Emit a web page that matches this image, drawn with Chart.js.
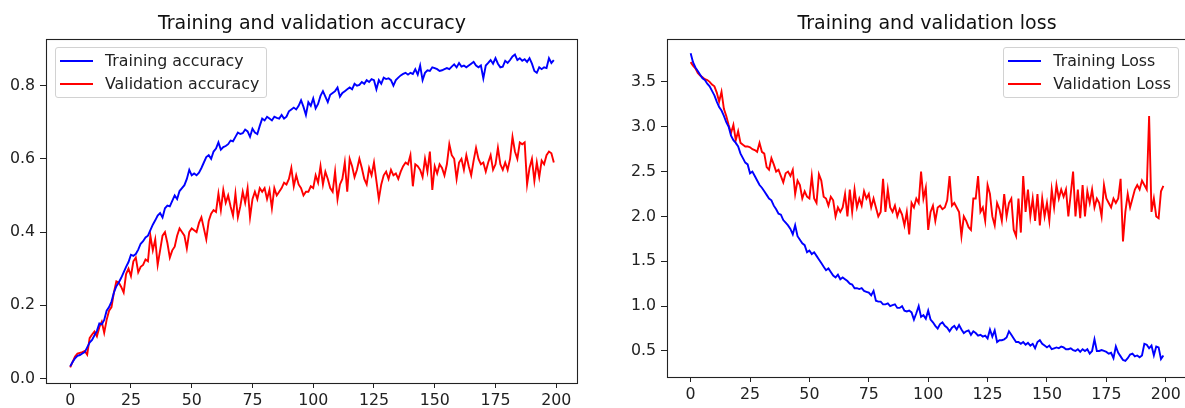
<!DOCTYPE html>
<html>
<head>
<meta charset="utf-8">
<script src="https://cdn.jsdelivr.net/npm/chart.js@4"></script>
<style>
  html, body { margin: 0; padding: 0; background: #fff; }
  body { width: 1185px; height: 408px; position: relative; overflow: hidden; font-family: 'DejaVu Sans', sans-serif; }
  .panel { position: absolute; top: 0; height: 408px; }
  .legend {
    position: absolute;
    background: rgba(255,255,255,0.8);
    border: 1px solid #d2d2d2;
    border-radius: 3px;
    padding: 5px 7px 5px 4px;
    font-size: 15.8px;
    color: #222;
  }
  .legend-item { display: flex; align-items: center; height: 16px; line-height: 16px; white-space: nowrap; }
  .legend-item + .legend-item { margin-top: 7px; }
  .legend-line { display: inline-block; width: 33px; height: 2px; margin-right: 12px; }
</style>
</head>
<body>
<div class="panel" id="accPanel" style="left:0;width:600px;">
  <canvas id="accChart" width="600" height="408"></canvas>
  <div class="legend" id="accLegend"></div>
</div>
<div class="panel" id="lossPanel" style="left:600px;width:600px;">
  <canvas id="lossChart" width="600" height="408"></canvas>
  <div class="legend" id="lossLegend"></div>
</div>
<script>
// --- Data ---
const trainAcc = [
  0.033, 0.045, 0.055, 0.062, 0.064, 0.068, 0.072, 0.085, 0.098, 0.105,
  0.118, 0.13, 0.15, 0.148, 0.16, 0.185, 0.195, 0.21, 0.235, 0.252,
  0.262, 0.275, 0.29, 0.305, 0.318, 0.338, 0.335, 0.34, 0.352, 0.368,
  0.375, 0.385, 0.39, 0.405, 0.42, 0.432, 0.445, 0.452, 0.44, 0.465,
  0.472, 0.47, 0.485, 0.50, 0.49, 0.512, 0.52, 0.528, 0.545, 0.57,
  0.555, 0.56, 0.555, 0.562, 0.575, 0.59, 0.605, 0.61, 0.60, 0.62,
  0.628, 0.645, 0.625, 0.632, 0.635, 0.64, 0.65, 0.648, 0.66, 0.672,
  0.668, 0.67, 0.68, 0.675, 0.66, 0.682, 0.672, 0.668, 0.69, 0.71,
  0.705, 0.715, 0.71, 0.705, 0.715, 0.712, 0.71, 0.72, 0.71, 0.715,
  0.73, 0.735, 0.74, 0.735, 0.745, 0.76, 0.742, 0.72, 0.755, 0.745,
  0.765, 0.738, 0.75, 0.772, 0.785, 0.77, 0.755, 0.775, 0.78, 0.785,
  0.795, 0.77, 0.78, 0.785, 0.79, 0.795, 0.79, 0.805, 0.80, 0.802,
  0.81, 0.805, 0.815, 0.81, 0.818, 0.815, 0.79, 0.815, 0.805, 0.822,
  0.818, 0.82, 0.815, 0.80, 0.815, 0.822, 0.828, 0.832, 0.835, 0.83,
  0.835, 0.832, 0.845, 0.83, 0.855, 0.815, 0.835, 0.842, 0.84, 0.85,
  0.848, 0.845, 0.84, 0.842, 0.845, 0.848, 0.845, 0.852, 0.858, 0.85,
  0.862, 0.852, 0.855, 0.85, 0.855, 0.86, 0.865, 0.855, 0.85, 0.855,
  0.82, 0.855, 0.862, 0.87, 0.86, 0.875, 0.86, 0.85, 0.852, 0.868,
  0.862, 0.87, 0.88, 0.885, 0.87, 0.875, 0.868, 0.872, 0.865, 0.875,
  0.86, 0.84, 0.835, 0.85, 0.845, 0.85, 0.848, 0.875, 0.862, 0.87
];

const valAcc = [
  0.03, 0.045, 0.06, 0.068, 0.07, 0.072, 0.075, 0.065, 0.11, 0.12,
  0.128, 0.115, 0.14, 0.155, 0.125, 0.16, 0.185, 0.195, 0.235, 0.265,
  0.262, 0.25, 0.235, 0.285, 0.30, 0.28, 0.32, 0.33, 0.29, 0.305,
  0.31, 0.325, 0.32, 0.39, 0.35, 0.38, 0.31, 0.35, 0.39, 0.40,
  0.37, 0.33, 0.35, 0.36, 0.39, 0.41, 0.40, 0.39, 0.355, 0.40,
  0.41, 0.405, 0.40, 0.425, 0.44, 0.41, 0.38, 0.43, 0.45, 0.46,
  0.455, 0.505, 0.46, 0.515, 0.48, 0.50, 0.47, 0.445, 0.505, 0.44,
  0.47, 0.51, 0.48, 0.52, 0.44, 0.49, 0.51, 0.49, 0.52, 0.51,
  0.52, 0.49, 0.515, 0.465, 0.52, 0.50, 0.51, 0.52, 0.535, 0.53,
  0.545, 0.575, 0.525, 0.555, 0.53, 0.52, 0.50, 0.51, 0.51, 0.525,
  0.52, 0.555, 0.535, 0.58, 0.53, 0.565, 0.545, 0.52, 0.51, 0.565,
  0.49, 0.53, 0.545, 0.59, 0.51, 0.60, 0.58, 0.55, 0.57, 0.60,
  0.575, 0.545, 0.53, 0.575, 0.555, 0.59, 0.54, 0.49, 0.53, 0.555,
  0.565, 0.545, 0.57, 0.555, 0.56, 0.545, 0.565, 0.58, 0.59, 0.585,
  0.61, 0.525, 0.585, 0.58, 0.57, 0.55, 0.60, 0.565, 0.62, 0.515,
  0.58, 0.56, 0.585, 0.575, 0.555, 0.585, 0.64, 0.61, 0.60, 0.545,
  0.59, 0.60, 0.57, 0.61, 0.58, 0.555, 0.595, 0.63, 0.60, 0.585,
  0.59, 0.565, 0.59, 0.61, 0.57, 0.585, 0.63, 0.585, 0.57, 0.59,
  0.57, 0.60, 0.66, 0.62, 0.60, 0.645, 0.64, 0.645, 0.53, 0.575,
  0.60, 0.54, 0.59, 0.55, 0.595, 0.585, 0.61, 0.62, 0.615, 0.59
];

const trainLoss = [
  3.82, 3.72, 3.66, 3.62, 3.58, 3.54, 3.52, 3.48, 3.45, 3.40,
  3.35, 3.28, 3.22, 3.18, 3.12, 3.05, 3.00, 2.90, 2.85, 2.82,
  2.78, 2.70, 2.65, 2.60, 2.58, 2.48, 2.50, 2.45, 2.40, 2.35,
  2.32, 2.28, 2.24, 2.20, 2.18, 2.12, 2.08, 2.03, 2.02, 1.96,
  1.93, 1.90, 1.86, 1.80, 1.90, 1.78, 1.74, 1.70, 1.68, 1.60,
  1.62, 1.58, 1.60, 1.56, 1.52, 1.48, 1.44, 1.40, 1.42, 1.38,
  1.34, 1.32, 1.35, 1.30, 1.32, 1.30, 1.28, 1.25, 1.24, 1.20,
  1.20, 1.19, 1.20, 1.17, 1.16, 1.15, 1.12, 1.17, 1.06, 1.05,
  1.05, 1.02, 1.02, 1.03, 1.00, 1.01, 1.02, 0.98, 0.98, 1.00,
  0.95, 0.94, 0.95, 0.93, 0.85, 0.92, 1.00, 0.88, 0.90, 0.86,
  0.95, 0.85, 0.82, 0.78, 0.75, 0.80, 0.82, 0.78, 0.76, 0.72,
  0.76, 0.78, 0.74, 0.79, 0.74, 0.70, 0.72, 0.73, 0.68, 0.72,
  0.70, 0.67, 0.68, 0.66, 0.67, 0.64, 0.74, 0.66, 0.73, 0.60,
  0.62, 0.62, 0.63, 0.65, 0.72, 0.68, 0.64, 0.60, 0.60, 0.58,
  0.60, 0.57, 0.59, 0.56, 0.58, 0.53, 0.60, 0.62, 0.58, 0.56,
  0.54, 0.56, 0.52, 0.53, 0.54, 0.53, 0.55, 0.54, 0.52, 0.52,
  0.53, 0.51, 0.50, 0.52, 0.49, 0.52, 0.50, 0.52, 0.47, 0.50,
  0.63, 0.50, 0.50, 0.51, 0.50, 0.49, 0.47, 0.48, 0.42, 0.55,
  0.48, 0.44, 0.40, 0.39, 0.42, 0.46, 0.47, 0.44, 0.45, 0.43,
  0.45, 0.58, 0.57, 0.53, 0.56, 0.45, 0.55, 0.54, 0.41, 0.45
];

const valLoss = [
  3.72, 3.68, 3.65, 3.60, 3.57, 3.55, 3.53, 3.52, 3.50, 3.47,
  3.45, 3.38, 3.28, 3.39, 3.20, 3.12, 3.02, 2.93, 3.02, 2.85,
  2.95, 2.82, 2.80, 2.78, 2.78, 2.77, 2.75, 2.74, 2.72, 2.82,
  2.72, 2.70, 2.55, 2.52, 2.65, 2.58, 2.50, 2.52, 2.45, 2.38,
  2.48, 2.50, 2.45, 2.52, 2.25, 2.40, 2.35, 2.20, 2.28, 2.22,
  2.20, 2.45, 2.20, 2.15, 2.47, 2.40, 2.22, 2.20, 2.12, 2.22,
  2.18, 2.00, 2.10, 2.05, 2.10, 2.25, 2.00, 2.30, 2.05, 2.30,
  2.10, 2.20, 2.12, 2.28, 2.20, 2.25, 2.10, 2.20, 2.10, 2.00,
  2.05, 2.42, 2.05, 2.30, 2.10, 2.05, 2.12, 2.00, 2.08, 2.02,
  1.90, 2.05, 1.80, 2.15, 2.10, 2.20, 2.15, 2.50, 2.20, 2.32,
  1.85, 2.05, 2.12, 1.95, 2.10, 2.12, 2.08, 2.10, 2.18, 2.45,
  2.12, 2.15, 2.10, 2.05, 1.78, 2.00, 1.95, 1.88, 1.85, 2.20,
  2.20, 2.45, 2.05, 2.10, 1.95, 2.35, 2.25, 2.00, 1.90, 2.15,
  2.08, 1.95, 2.25, 2.00, 2.15, 2.20, 1.85, 1.78, 2.20, 1.82,
  2.45, 2.05, 2.30, 2.00, 2.20, 1.95, 2.25, 1.90, 2.20, 2.00,
  2.15, 1.95, 2.30, 2.10, 2.35, 2.20, 2.30, 2.22, 2.30, 2.00,
  2.25, 2.50, 2.00, 2.30, 1.98, 2.35, 2.00, 2.28, 2.15, 2.30,
  2.10, 2.20, 2.15, 2.00, 2.35, 2.20, 2.15, 2.10, 2.20, 2.15,
  2.20, 2.42, 1.72, 2.05, 2.25, 2.10, 2.20, 2.30, 2.35, 2.30,
  2.40, 2.35, 2.30, 3.12, 2.05, 2.20, 2.00, 1.98, 2.28, 2.34
];

// epoch index for each recorded value
const epochs = trainAcc.map((_, i) => i);

const xTicks = [0, 25, 50, 75, 100, 125, 150, 175, 200];
const accTicks = [0.0, 0.2, 0.4, 0.6, 0.8];
const lossTicks = [0.5, 1.0, 1.5, 2.0, 2.5, 3.0, 3.5];

// --- Chart defaults (matplotlib look) ---
Chart.defaults.font.family = "'DejaVu Sans', sans-serif";
Chart.defaults.font.size = 15.8;
Chart.defaults.color = '#222';
Chart.defaults.animation = false;

// draws the full axes box like matplotlib spines
const framePlugin = {
  id: 'frame',
  afterDraw(chart) {
    const { ctx, chartArea: a } = chart;
    ctx.save();
    ctx.strokeStyle = '#222';
    ctx.lineWidth = 1.1;
    ctx.strokeRect(Math.round(a.left) + 0.5, Math.round(a.top) + 0.5,
      Math.round(a.right - a.left) - 1, Math.round(a.bottom - a.top));
    ctx.restore();
  }
};

function makeChart(canvasId, cfg) {
  const ctx = document.getElementById(canvasId).getContext('2d');
  return new Chart(ctx, {
    type: 'line',
    data: {
      labels: epochs,
      datasets: cfg.series.map(s => ({
        label: s.label,
        data: s.data,
        borderColor: s.color,
        borderWidth: 1.9,
        pointRadius: 0,
        tension: 0,
        fill: false
      }))
    },
    options: {
      responsive: false,
      layout: { padding: { left: 0, right: cfg.padRight, top: 0, bottom: 0 } },
      plugins: {
        legend: { display: false },
        tooltip: { enabled: false },
        title: {
          display: true,
          text: cfg.title,
          fullSize: false,
          color: '#111',
          font: { size: 19, weight: 'normal' },
          padding: { top: 13, bottom: 3 }
        }
      },
      scales: {
        x: {
          type: 'linear',
          min: -9.95,
          max: 208.95,
          afterBuildTicks: (scale) => { scale.ticks = xTicks.map(v => ({ value: v })); },
          afterFit: (scale) => { scale.height = cfg.xHeight; },
          ticks: { padding: 3, maxRotation: 0, autoSkip: false, callback: v => String(v) },
          grid: { drawOnChartArea: false, drawTicks: true, tickLength: 5, color: '#222' },
          border: { display: false }
        },
        y: {
          min: cfg.yMin,
          max: cfg.yMax,
          afterBuildTicks: (scale) => { scale.ticks = cfg.yTicks.map(v => ({ value: v })); },
          afterFit: (scale) => { scale.width = cfg.yWidth; },
          ticks: { padding: 5, autoSkip: false, callback: v => v.toFixed(1) },
          grid: { drawOnChartArea: false, drawTicks: true, tickLength: 6, color: '#222' },
          border: { display: false }
        }
      }
    },
    plugins: [framePlugin]
  });
}

function renderLegend(chart, legendId, corner) {
  const box = document.getElementById(legendId);
  box.innerHTML = '';
  chart.data.datasets.forEach(ds => {
    const item = document.createElement('div');
    item.className = 'legend-item';
    item.innerHTML = `<span class="legend-line" style="background:${ds.borderColor}"></span><span>${ds.label}</span>`;
    box.appendChild(item);
  });
  const a = chart.chartArea;
  box.style.top = (a.top + 8) + 'px';
  if (corner === 'left') {
    box.style.left = (a.left + 9) + 'px';
  } else {
    box.style.right = (chart.width - a.right + 8) + 'px';
  }
}

const accChart = makeChart('accChart', {
  title: 'Training and validation accuracy',
  series: [
    { label: 'Training accuracy', data: trainAcc, color: '#0000ff' },
    { label: 'Validation accuracy', data: valAcc, color: '#ff0000' }
  ],
  yMin: -0.0125, yMax: 0.928, yTicks: accTicks,
  yWidth: 46, xHeight: 25, padRight: 22
});

const lossChart = makeChart('lossChart', {
  title: 'Training and validation loss',
  series: [
    { label: 'Training Loss', data: trainLoss, color: '#0000ff' },
    { label: 'Validation Loss', data: valLoss, color: '#ff0000' }
  ],
  yMin: 0.21, yMax: 3.98, yTicks: lossTicks,
  yWidth: 67, xHeight: 31, padRight: 13
});

renderLegend(accChart, 'accLegend', 'left');
renderLegend(lossChart, 'lossLegend', 'right');
</script>
</body>
</html>
